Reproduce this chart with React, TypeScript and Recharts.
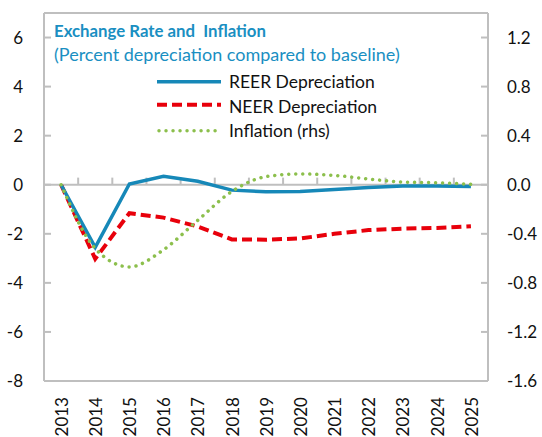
import React from 'react'
import { LineChart, Line, XAxis, YAxis, ReferenceLine } from 'recharts'

const years = ['2013', '2014', '2015', '2016', '2017', '2018', '2019', '2020', '2021', '2022', '2023', '2024', '2025']
const reer = [0, -2.55, 0.03, 0.34, 0.14, -0.22, -0.29, -0.28, -0.19, -0.11, -0.05, -0.05, -0.07]
const neer = [0, -3.02, -1.16, -1.34, -1.7, -2.23, -2.24, -2.19, -2.0, -1.85, -1.79, -1.76, -1.69]
const inflation = [0, -0.52, -0.67, -0.53, -0.29, -0.055, 0.066, 0.088, 0.076, 0.047, 0.022, 0.016, 0.003]

const leftTicks = [-8, -6, -4, -2, 0, 2, 4, 6]
const rightTicks = [-1.6, -1.2, -0.8, -0.4, 0, 0.4, 0.8, 1.2]
const boundaries = [0.5, 1.5, 2.5, 3.5, 4.5, 5.5, 6.5, 7.5, 8.5, 9.5, 10.5, 11.5]

const data = years.map((year, i) => ({
  i,
  year,
  reer: reer[i],
  neer: neer[i],
  inflation: inflation[i],
}))

const FONT = 'Lato, "Open Sans", sans-serif'
const GRID = '#bfbfbf'
const BLUE = '#1688b8'
const RED = '#e8000b'
const GREEN = '#8cbf4c'
const TITLE = '#1a8fc2'

function LeftTick({ x, y, payload }: any) {
  return (
    <g>
      <line x1={x} x2={x + 7} y1={y} y2={y} stroke={GRID} strokeWidth={2} />
      <text x={x - 21} y={y} dy="0.36em" textAnchor="end" fontFamily={FONT} fontSize={17} fill="#111">
        {payload.value}
      </text>
    </g>
  )
}

function RightTick({ x, y, payload }: any) {
  return (
    <g>
      <line x1={x - 7} x2={x} y1={y} y2={y} stroke={GRID} strokeWidth={2} />
      <text x={x + 19} y={y} dy="0.36em" textAnchor="start" fontFamily={FONT} fontSize={17} fill="#111">
        {Number(payload.value).toFixed(1)}
      </text>
    </g>
  )
}

function YearTick({ x, y, payload }: any) {
  const ty = y + 16
  return (
    <text
      x={x}
      y={ty}
      dy="0.4em"
      textAnchor="end"
      transform={`rotate(-90 ${x} ${ty})`}
      fontFamily={FONT}
      fontSize={17}
      fill="#111"
    >
      {years[payload.value]}
    </text>
  )
}

export default function App() {
  return (
    <div style={{ position: 'absolute', left: 0, top: 0, width: 542, height: 437, background: '#fff' }}>
      <LineChart width={542} height={437} data={data} margin={{ top: 13, right: 0, bottom: 0, left: 0 }}>
        <XAxis
          dataKey="i"
          type="number"
          domain={[-0.5, 12.5]}
          ticks={years.map((_, i) => i)}
          interval={0}
          height={56}
          axisLine={{ stroke: GRID, strokeWidth: 2 }}
          tickLine={false}
          tickSize={0}
          tickMargin={0}
          tick={<YearTick />}
        />
        <YAxis
          yAxisId="l"
          orientation="left"
          width={44}
          domain={[-8, 7]}
          ticks={leftTicks}
          interval={0}
          axisLine={{ stroke: GRID, strokeWidth: 2 }}
          tickLine={false}
          tickSize={0}
          tickMargin={0}
          tick={<LeftTick />}
        />
        <YAxis
          yAxisId="r"
          orientation="right"
          width={54}
          domain={[-1.6, 1.4]}
          ticks={rightTicks}
          interval={0}
          axisLine={{ stroke: GRID, strokeWidth: 2 }}
          tickLine={false}
          tickSize={0}
          tickMargin={0}
          tick={<RightTick />}
        />
        <ReferenceLine yAxisId="l" y={7} stroke={GRID} strokeWidth={2} />
        <ReferenceLine yAxisId="l" y={0} stroke={GRID} strokeWidth={2} />
        {boundaries.map((b) => (
          <ReferenceLine
            key={b}
            yAxisId="l"
            segment={[
              { x: b, y: 0 },
              { x: b, y: 0.29 },
            ]}
            stroke={GRID}
            strokeWidth={2}
          />
        ))}
        <Line
          yAxisId="l"
          dataKey="neer"
          type="linear"
          stroke={RED}
          strokeWidth={4}
          strokeDasharray="10 5"
          dot={false}
          isAnimationActive={false}
        />
        <Line
          yAxisId="l"
          dataKey="reer"
          type="linear"
          stroke={BLUE}
          strokeWidth={3.5}
          dot={false}
          isAnimationActive={false}
        />
        <Line
          yAxisId="r"
          dataKey="inflation"
          type="monotone"
          stroke={GREEN}
          strokeWidth={3.5}
          strokeDasharray="0.01 7"
          strokeLinecap="round"
          dot={false}
          isAnimationActive={false}
        />
      </LineChart>
      <svg
        width={542}
        height={437}
        style={{ position: 'absolute', left: 0, top: 0, pointerEvents: 'none' }}
        fontFamily={FONT}
      >
        <text x={54} y={36.7} fontSize={16.8} fontWeight={700} fill={TITLE} style={{ whiteSpace: 'pre' }}>
          Exchange Rate and  Inflation
        </text>
        <text x={54} y={60.7} fontSize={18} fill={TITLE}>
          (Percent depreciation compared to baseline)
        </text>
        <line x1={157} x2={221} y1={81.7} y2={81.7} stroke={BLUE} strokeWidth={3.5} />
        <line x1={157} x2={221} y1={104.7} y2={104.7} stroke={RED} strokeWidth={4} strokeDasharray="10 5" />
        <line
          x1={159}
          x2={221}
          y1={130.7}
          y2={130.7}
          stroke={GREEN}
          strokeWidth={3.5}
          strokeDasharray="0.01 7"
          strokeLinecap="round"
        />
        <text x={229} y={87.7} fontSize={17.5} fill="#111">REER Depreciation</text>
        <text x={229} y={112.7} fontSize={17.5} fill="#111">NEER Depreciation</text>
        <text x={229} y={137.3} fontSize={17.5} fill="#111">Inflation (rhs)</text>
      </svg>
    </div>
  )
}
